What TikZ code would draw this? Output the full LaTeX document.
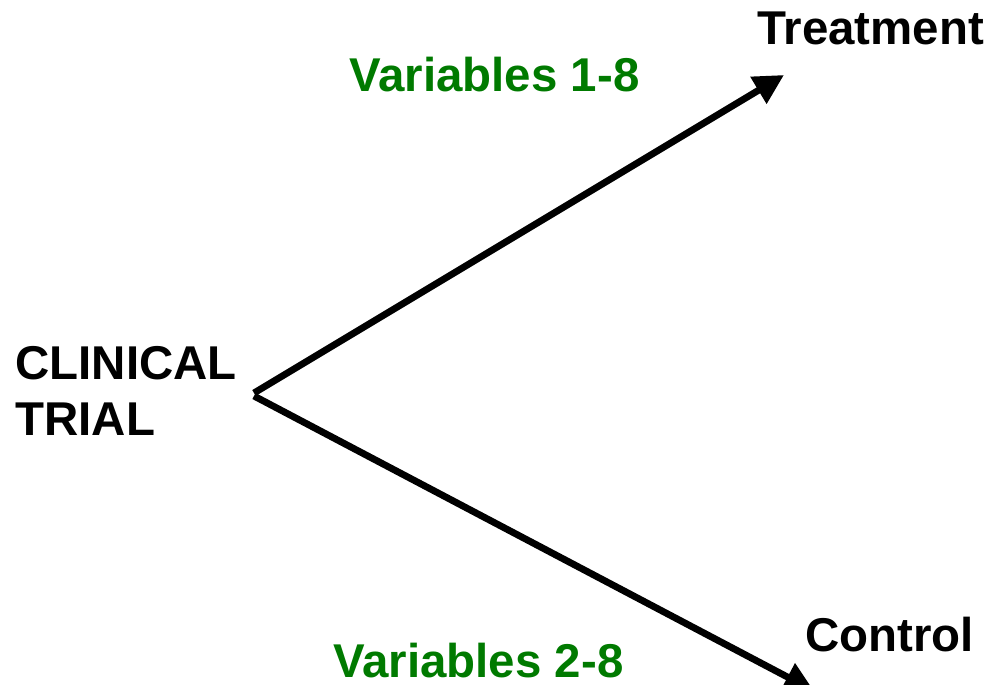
\documentclass[tikz,border=0pt]{standalone}
\usepackage{fontspec}
\setmainfont{Liberation Sans}
\usetikzlibrary{arrows.meta}
\definecolor{vargreen}{RGB}{0,122,0}
\tikzset{
  lbl/.style={anchor=base west,inner sep=0pt,font=\bfseries\fontsize{27}{32}\selectfont},
  varlbl/.style={lbl,text=vargreen},
  branch/.style={line width=3.9pt,-{Triangle[length=17pt,width=17pt]}}
}
\begin{document}
\begin{tikzpicture}[x=0.02cm,y=-0.02cm]
            \useasboundingbox (0,0) rectangle (994,685);
            \node[lbl] (clin) at (15,380) {CLINICAL};
            \node[lbl] (trial) at (15,436) {TRIAL};
            \node[lbl] (treat) at (757,45) {Treatment};
            \node[lbl] (ctrl) at (805,651) {Control};
            \node[varlbl] (var1) at (349,92) {Variables 1-8};
            \node[varlbl] (var2) at (333,677) {Variables 2-8};
            \coordinate (fork1) at (254,393);
            \coordinate (fork2) at (254,396);
            \coordinate (tipup) at (784,75);
            \coordinate (tipdown) at (814,691);
            \draw[branch] (fork1) -- (tipup);
            \draw[branch] (fork2) -- (tipdown);
         \end{tikzpicture}
\end{document}
